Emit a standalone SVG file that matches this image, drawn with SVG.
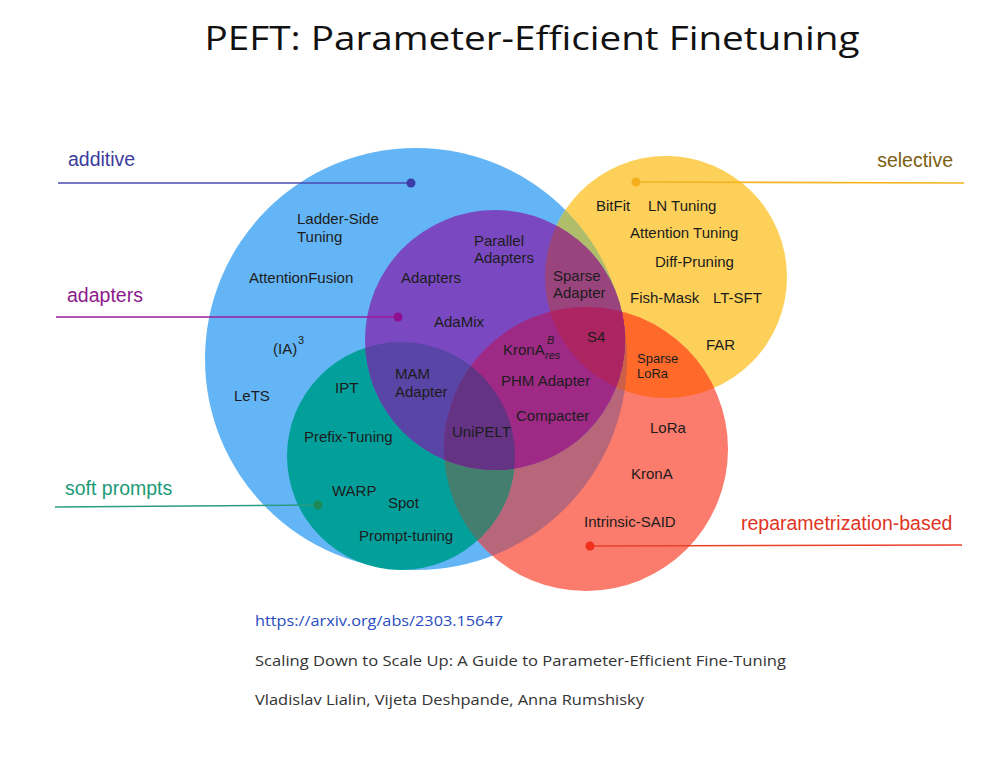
<svg xmlns="http://www.w3.org/2000/svg" width="982" height="769" viewBox="0 0 982 769">
<style>
.m{font-family:"Liberation Sans",Arial,sans-serif;font-size:15px;fill:#1c1c1c}
.ms{font-family:"Liberation Sans",Arial,sans-serif;font-size:13px;fill:#1c1c1c}
.sup{font-family:"Liberation Sans",Arial,sans-serif;font-size:11px;fill:#1c1c1c}
.lab{font-family:"Liberation Sans",Arial,sans-serif;font-size:19.5px}
.ref{font-family:"Open Sans","Liberation Sans",sans-serif;font-size:14.5px;fill:#333}
.ln{stroke-width:1.6;fill:none}
</style>
<defs>
<clipPath id="cB"><circle cx="416" cy="359" r="211"/></clipPath>
<clipPath id="cY"><circle cx="666" cy="277" r="121"/></clipPath>
<clipPath id="cR"><circle cx="586" cy="449" r="142"/></clipPath>
<clipPath id="cT"><circle cx="401" cy="456" r="114"/></clipPath>
<clipPath id="cP"><circle cx="495" cy="340" r="130"/></clipPath>
</defs>
<rect width="982" height="769" fill="#ffffff"/>
<text x="532" y="50" text-anchor="middle" font-family="'Open Sans','Liberation Sans',sans-serif" font-size="33" fill="#111" textLength="655" lengthAdjust="spacingAndGlyphs">PEFT: Parameter-Efficient Finetuning</text>

<g id="sets">
<circle cx="416" cy="359" r="211" fill="#64b5f5"/>
<circle cx="666" cy="277" r="121" fill="#fdd05a"/>
<circle cx="666" cy="277" r="121" fill="#b0be6c" clip-path="url(#cB)"/>
<circle cx="586" cy="449" r="142" fill="#fb7b6c"/>
<circle cx="586" cy="449" r="142" fill="#b8667a" clip-path="url(#cB)"/>
<circle cx="586" cy="449" r="142" fill="#ff6a2a" clip-path="url(#cY)"/>
<g clip-path="url(#cB)"><circle cx="586" cy="449" r="142" fill="#cc5f48" clip-path="url(#cY)"/></g>
<circle cx="401" cy="456" r="114" fill="#03a09b"/>
<circle cx="586" cy="449" r="142" fill="#437e6e" clip-path="url(#cT)"/>
<circle cx="495" cy="340" r="130" fill="#7a49c1"/>
<circle cx="495" cy="340" r="130" fill="#9a447e" clip-path="url(#cY)"/>
<circle cx="495" cy="340" r="130" fill="#5945a6" clip-path="url(#cT)"/>
<circle cx="495" cy="340" r="130" fill="#9e2a86" clip-path="url(#cR)"/>
<g clip-path="url(#cY)"><circle cx="495" cy="340" r="130" fill="#ac2562" clip-path="url(#cR)"/></g>
<g clip-path="url(#cT)"><circle cx="495" cy="340" r="130" fill="#653383" clip-path="url(#cR)"/></g>
</g>

<g id="connectors">
<line class="ln" x1="58" y1="183" x2="411" y2="183" stroke="#4a4ab2"/>
<circle cx="411" cy="183" r="4.5" fill="#3c3ca8"/>
<line class="ln" x1="56" y1="317" x2="398" y2="317" stroke="#9a1c9a"/>
<circle cx="398" cy="317" r="4.5" fill="#8e1090"/>
<line class="ln" x1="55" y1="507" x2="318" y2="505" stroke="#2a9d80"/>
<circle cx="318" cy="505" r="4.5" fill="#1b8a55"/>
<line class="ln" x1="636" y1="182" x2="964" y2="183" stroke="#f5b322"/>
<circle cx="636" cy="182" r="4.5" fill="#f5ae1c"/>
<line class="ln" x1="590" y1="546" x2="962" y2="545" stroke="#e8402a"/>
<circle cx="590" cy="546" r="4.5" fill="#f0301c"/>
</g>

<g id="additive">
<text class="lab" x="68" y="166" fill="#3b3b9c">additive</text>
<text class="m" x="297" y="224">Ladder-Side</text>
<text class="m" x="297" y="242">Tuning</text>
<text class="m" x="249" y="283">AttentionFusion</text>
<text class="m" x="273" y="354">(IA)</text>
<text class="sup" x="298" y="344">3</text>
<text class="m" x="234" y="401">LeTS</text>
</g>

<g id="adapters">
<text class="lab" x="67" y="302" fill="#8c1a8c">adapters</text>
<text class="m" x="401" y="283">Adapters</text>
<text class="m" x="474" y="246">Parallel</text>
<text class="m" x="474" y="263">Adapters</text>
<text class="m" x="434" y="327">AdaMix</text>
<text class="m" x="395" y="379">MAM</text>
<text class="m" x="395" y="397">Adapter</text>
<text class="m" x="503" y="355">KronA</text>
<text class="sup" x="547" y="344" font-style="italic">B</text>
<text class="sup" x="545" y="359" font-style="italic">res</text>
<text class="m" x="501" y="386">PHM Adapter</text>
<text class="m" x="516" y="421">Compacter</text>
<text class="m" x="452" y="437">UniPELT</text>
<text class="m" x="553" y="281">Sparse</text>
<text class="m" x="553" y="298">Adapter</text>
<text class="m" x="587" y="342">S4</text>
</g>

<g id="soft-prompts">
<text class="lab" x="65" y="495" fill="#1b9a78">soft prompts</text>
<text class="m" x="335" y="393">IPT</text>
<text class="m" x="304" y="442">Prefix-Tuning</text>
<text class="m" x="332" y="496">WARP</text>
<text class="m" x="388" y="508">Spot</text>
<text class="m" x="359" y="541">Prompt-tuning</text>
</g>

<g id="selective">
<text class="lab" x="953" y="167" text-anchor="end" fill="#7a5e12">selective</text>
<text class="m" x="596" y="211">BitFit</text>
<text class="m" x="648" y="211">LN Tuning</text>
<text class="m" x="630" y="238">Attention Tuning</text>
<text class="m" x="655" y="267">Diff-Pruning</text>
<text class="m" x="630" y="303">Fish-Mask</text>
<text class="m" x="713" y="303">LT-SFT</text>
<text class="m" x="706" y="350">FAR</text>
<text class="ms" x="637" y="363">Sparse</text>
<text class="ms" x="637" y="378">LoRa</text>
</g>

<g id="reparametrization">
<text class="lab" x="741" y="530" fill="#e03424">reparametrization-based</text>
<text class="m" x="650" y="433">LoRa</text>
<text class="m" x="631" y="479">KronA</text>
<text class="m" x="584" y="527">Intrinsic-SAID</text>
</g>

<g id="reference">
<text class="ref" x="255" y="626" fill="#2a4cc0" style="fill:#2a4cc0" textLength="248" lengthAdjust="spacingAndGlyphs">https://arxiv.org/abs/2303.15647</text>
<text class="ref" x="255" y="666" textLength="531" lengthAdjust="spacingAndGlyphs">Scaling Down to Scale Up: A Guide to Parameter-Efficient Fine-Tuning</text>
<text class="ref" x="255" y="705" textLength="389" lengthAdjust="spacingAndGlyphs">Vladislav Lialin, Vijeta Deshpande, Anna Rumshisky</text>
</g>
</svg>
